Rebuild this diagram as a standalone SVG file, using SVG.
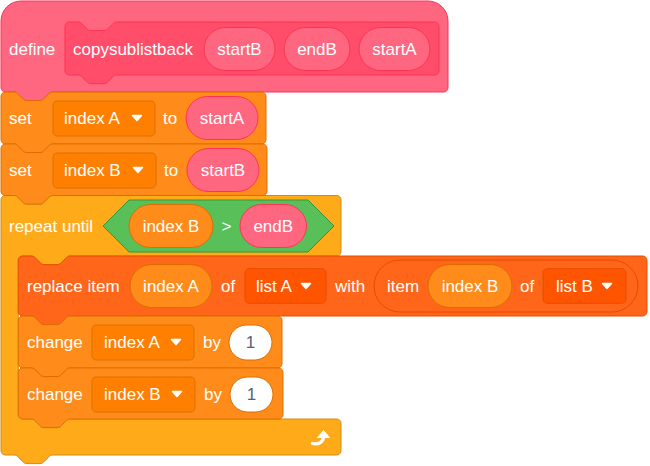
<svg xmlns="http://www.w3.org/2000/svg" width="650" height="466" viewBox="0 0 650 466">
<style>
.t{font-family:"Liberation Sans",Arial,Helvetica,sans-serif;font-size:17px;fill:#fff}
.m{text-anchor:middle}
.num{fill:#575E75}
.pro{fill:#FF6680;stroke:#FF3355;stroke-width:1}
.proin{fill:#FF4D6A;stroke:#FF3355;stroke-width:1}
.var{fill:#FF8C1A;stroke:#DB6E00;stroke-width:1}
.vardd{fill:#FF8000;stroke:#DB6E00;stroke-width:1}
.lst{fill:#FF661A;stroke:#E64D00;stroke-width:1}
.lstdd{fill:#FF5500;stroke:#E64D00;stroke-width:1}
.ctl{fill:#FFAB19;stroke:#CF8B17;stroke-width:1}
.op{fill:#59C059;stroke:#389438;stroke-width:1}
.numin{fill:#fff;stroke:#DB6E00;stroke-width:1}
.arr{fill:#fff;stroke:#fff;stroke-width:1.5;stroke-linejoin:round}
</style>
<defs>
<path id="dd" d="M-4.5,-2.5 L4.5,-2.5 L0,2.5 Z"/>
</defs>
<g id="repeat">
<path class="ctl" d="M1,199.82 A4.32,4.32 0 0 1 5.32,195.5 H13.96 c2.16,0 3.24,1.08 4.32,2.16 l4.32,4.32 c1.08,1.08 2.16,2.16 4.32,2.16 h12.96 c2.16,0 3.24,-1.08 4.32,-2.16 l4.32,-4.32 c1.08,-1.08 2.160,-2.16 4.32,-2.16 H336.68 A4.32,4.32 0 0 1 341,199.82 V251.68 A4.32,4.32 0 0 1 336.68,256 H70.12 c-2.16,0 -3.24,1.08 -4.32,2.16 l-4.32,4.32 c-1.08,1.08 -2.16,2.16 -4.32,2.16 h-12.96 c-2.16,0 -3.24,-1.08 -4.32,-2.16 l-4.32,-4.32 c-1.08,-1.08 -2.16,-2.16 -4.32,-2.16 H22.6 A4.32,4.32 0 0 0 18.28,260.32 V414.68 A4.32,4.32 0 0 0 22.6,419 H31.24 c2.16,0 3.24,1.08 4.32,2.16 l4.32,4.32 c1.08,1.08 2.16,2.16 4.32,2.16 h12.96 c2.16,0 3.24,-1.08 4.32,-2.16 l4.32,-4.32 c1.08,-1.08 2.16,-2.16 4.32,-2.16 H336.68 A4.32,4.32 0 0 1 341,423.32 V450.68 A4.32,4.32 0 0 1 336.68,455 H52.84 c-2.16,0 -3.24,1.08 -4.32,2.16 l-4.32,4.32 c-1.08,1.08 -2.16,2.16 -4.32,2.16 h-12.960 c-2.16,0 -3.24,-1.08 -4.32,-2.16 l-4.32,-4.32 c-1.08,-1.08 -2.16,-2.16 -4.32,-2.16 H5.32 A4.32,4.32 0 0 1 1,450.68 Z"/>
<text class="t" x="9" y="232">repeat until</text>
<polygon class="op" points="103,226 129,200 308,200 334,226 308,252 129,252"/>
<rect class="var" x="129" y="204.5" width="84" height="43" rx="21.5"/>
<text class="t m" x="171" y="232">index B</text>
<text class="t m" x="226.5" y="232">&gt;</text>
<rect class="pro" x="240" y="204.5" width="66.5" height="43" rx="21.5"/>
<text class="t m" x="273.25" y="232">endB</text>
<path d="M312.5,443.5 C318.5,445 323.5,442 323.5,436.5" fill="none" stroke="#fff" stroke-width="3.2" stroke-linecap="round"/>
<path d="M317.5,437.5 L323.5,430.5 L329.5,437.5 Z" fill="#fff" stroke="#fff" stroke-width="1" stroke-linejoin="round"/>
</g>
<g id="define">
<path class="pro" d="M1,21 A20,20 0 0 1 21,1 H428 A20,20 0 0 1 448,21 V87.68 A4.32,4.32 0 0 1 443.68,92 H52.84 c-2.16,0 -3.24,1.08 -4.32,2.16 l-4.32,4.32 c-1.08,1.08 -2.16,2.16 -4.32,2.16 h-12.96 c-2.16,0 -3.24,-1.08 -4.32,-2.16 l-4.32,-4.32 c-1.08,-1.08 -2.16,-2.16 -4.32,-2.16 H5.32 A4.32,4.32 0 0 1 1,87.68 Z"/>
<text class="t" x="9" y="55">define</text>
<path class="proin" d="M65,26.32 A4.32,4.32 0 0 1 69.32,22 H77.96 c2.16,0 3.24,1.08 4.32,2.16 l4.32,4.32 c1.08,1.08 2.16,2.16 4.32,2.16 h12.96 c2.16,0 3.24,-1.08 4.32,-2.16 l4.32,-4.32 c1.08,-1.08 2.16,-2.16 4.32,-2.16 H434.68 A4.32,4.32 0 0 1 439,26.32 V70.68 A4.32,4.32 0 0 1 434.68,75 H116.84 c-2.16,0 -3.24,1.08 -4.32,2.16 l-4.32,4.32 c-1.08,1.08 -2.16,2.16 -4.32,2.16 h-12.96 c-2.16,0 -3.24,-1.08 -4.32,-2.16 l-4.32,-4.32 c-1.08,-1.08 -2.16,-2.16 -4.32,-2.16 H69.32 A4.32,4.32 0 0 1 65,70.68 Z"/>
<text class="t" x="73" y="55">copysublistback</text>
<rect class="pro" x="204" y="27.5" width="71" height="43" rx="21.5"/>
<text class="t m" x="239.5" y="55">startB</text>
<rect class="pro" x="284" y="27.5" width="66" height="43" rx="21.5"/>
<text class="t m" x="317" y="55">endB</text>
<rect class="pro" x="359" y="27.5" width="71" height="43" rx="21.5"/>
<text class="t m" x="394.5" y="55">startA</text>
</g>
<g id="set1">
<path class="var" d="M1,96.32 A4.32,4.32 0 0 1 5.32,92 H13.96 c2.16,0 3.24,1.08 4.32,2.16 l4.32,4.32 c1.08,1.08 2.16,2.16 4.32,2.16 h12.96 c2.16,0 3.24,-1.08 4.32,-2.16 l4.32,-4.32 c1.08,-1.08 2.16,-2.16 4.32,-2.16 H261.68 A4.32,4.32 0 0 1 266,96.32 V139.68 A4.32,4.32 0 0 1 261.68,144 H52.84 c-2.16,0 -3.24,1.08 -4.32,2.16 l-4.32,4.32 c-1.08,1.08 -2.16,2.16 -4.32,2.16 h-12.96 c-2.16,0 -3.24,-1.08 -4.32,-2.16 l-4.32,-4.32 c-1.08,-1.08 -2.16,-2.16 -4.32,-2.16 H5.32 A4.32,4.32 0 0 1 1,139.68 Z"/>
<text class="t" x="9" y="124">set</text>
<rect class="vardd" x="53" y="101" width="102" height="35" rx="4.32"/>
<text class="t" x="64" y="124">index A</text>
<use href="#dd" class="arr" x="137" y="118"/>
<text class="t" x="163" y="124">to</text>
<rect class="pro" x="186" y="96.5" width="72" height="43" rx="21.5"/>
<text class="t m" x="222" y="124">startA</text>
</g>
<g id="set2">
<path class="var" d="M1,148.32 A4.32,4.32 0 0 1 5.32,144 H13.96 c2.16,0 3.24,1.08 4.32,2.16 l4.32,4.32 c1.08,1.08 2.16,2.16 4.32,2.16 h12.96 c2.16,0 3.24,-1.08 4.32,-2.16 l4.32,-4.32 c1.08,-1.08 2.16,-2.16 4.32,-2.16 H262.68 A4.32,4.32 0 0 1 267,148.32 V191.18 A4.32,4.32 0 0 1 262.68,195.5 H52.84 c-2.16,0 -3.24,1.08 -4.32,2.16 l-4.32,4.32 c-1.08,1.08 -2.16,2.16 -4.32,2.16 h-12.96 c-2.16,0 -3.24,-1.08 -4.32,-2.16 l-4.32,-4.32 c-1.08,-1.08 -2.16,-2.16 -4.32,-2.16 H5.32 A4.32,4.32 0 0 1 1,191.18 Z"/>
<text class="t" x="9" y="176">set</text>
<rect class="vardd" x="53" y="153" width="103" height="35" rx="4.32"/>
<text class="t" x="64" y="176">index B</text>
<use href="#dd" class="arr" x="138" y="170"/>
<text class="t" x="164" y="176">to</text>
<rect class="pro" x="187" y="148.5" width="72" height="43" rx="21.5"/>
<text class="t m" x="223" y="176">startB</text>
</g>
<g id="replace">
<path class="lst" d="M18.28,260.32 A4.32,4.32 0 0 1 22.6,256 H31.24 c2.16,0 3.24,1.08 4.32,2.16 l4.32,4.32 c1.08,1.08 2.16,2.16 4.32,2.16 h12.96 c2.16,0 3.24,-1.08 4.32,-2.16 l4.32,-4.32 c1.08,-1.08 2.16,-2.16 4.32,-2.16 H642.68 A4.32,4.32 0 0 1 647,260.32 V311.68 A4.32,4.32 0 0 1 642.68,316 H70.12 c-2.16,0 -3.24,1.08 -4.32,2.16 l-4.32,4.32 c-1.08,1.08 -2.16,2.16 -4.32,2.16 h-12.96 c-2.16,0 -3.24,-1.08 -4.32,-2.16 l-4.32,-4.32 c-1.08,-1.08 -2.16,-2.16 -4.32,-2.16 H22.6 A4.32,4.32 0 0 1 18.28,311.68 Z"/>
<text class="t" x="27" y="292">replace item</text>
<rect class="var" x="130" y="264.5" width="82" height="43" rx="21.5"/>
<text class="t m" x="171" y="292">index A</text>
<text class="t" x="221" y="292">of</text>
<rect class="lstdd" x="245" y="268.7" width="81" height="34.6" rx="4.32"/>
<text class="t" x="256" y="292">list A</text>
<use href="#dd" class="arr" x="306" y="286"/>
<text class="t" x="335" y="292">with</text>
<rect class="lst" x="374" y="260" width="264" height="52" rx="26"/>
<text class="t" x="387" y="292">item</text>
<rect class="var" x="428" y="264.5" width="84" height="43" rx="21.5"/>
<text class="t m" x="470" y="292">index B</text>
<text class="t" x="520" y="292">of</text>
<rect class="lstdd" x="543" y="268.7" width="83" height="34.6" rx="4.32"/>
<text class="t" x="556" y="292">list B</text>
<use href="#dd" class="arr" x="607" y="286"/>
</g>
<g id="change1">
<path class="var" d="M18.28,320.32 A4.32,4.32 0 0 1 22.6,316 H31.24 c2.16,0 3.24,1.08 4.32,2.16 l4.32,4.32 c1.08,1.08 2.16,2.16 4.32,2.16 h12.96 c2.16,0 3.24,-1.08 4.32,-2.16 l4.32,-4.32 c1.08,-1.08 2.16,-2.16 4.32,-2.16 H277.68 A4.32,4.32 0 0 1 282,320.32 V363.68 A4.32,4.32 0 0 1 277.68,368 H70.12 c-2.16,0 -3.24,1.08 -4.32,2.16 l-4.32,4.32 c-1.08,1.08 -2.16,2.16 -4.32,2.16 h-12.96 c-2.16,0 -3.24,-1.08 -4.32,-2.16 l-4.32,-4.32 c-1.08,-1.08 -2.16,-2.16 -4.32,-2.16 H22.6 A4.32,4.32 0 0 1 18.28,363.68 Z"/>
<text class="t" x="27" y="348">change</text>
<rect class="vardd" x="92" y="325" width="102" height="35" rx="4.32"/>
<text class="t" x="104" y="348">index A</text>
<use href="#dd" class="arr" x="176" y="342"/>
<text class="t" x="203" y="348">by</text>
<rect class="numin" x="229" y="325" width="43" height="35" rx="17.5"/>
<text class="t m num" x="250.5" y="348">1</text>
</g>
<g id="change2">
<path class="var" d="M18.28,372.32 A4.32,4.32 0 0 1 22.6,368 H31.24 c2.16,0 3.24,1.08 4.32,2.16 l4.32,4.32 c1.08,1.08 2.16,2.16 4.32,2.16 h12.96 c2.16,0 3.24,-1.08 4.32,-2.16 l4.32,-4.32 c1.08,-1.08 2.16,-2.16 4.32,-2.16 H278.68 A4.32,4.32 0 0 1 283,372.32 V414.68 A4.32,4.32 0 0 1 278.68,419 H70.12 c-2.16,0 -3.24,1.08 -4.32,2.16 l-4.32,4.32 c-1.08,1.08 -2.16,2.16 -4.32,2.16 h-12.96 c-2.16,0 -3.24,-1.08 -4.32,-2.16 l-4.32,-4.32 c-1.08,-1.08 -2.16,-2.16 -4.32,-2.16 H22.6 A4.32,4.32 0 0 1 18.28,414.68 Z"/>
<text class="t" x="27" y="400">change</text>
<rect class="vardd" x="92" y="377" width="103" height="35" rx="4.32"/>
<text class="t" x="104" y="400">index B</text>
<use href="#dd" class="arr" x="177" y="394"/>
<text class="t" x="204" y="400">by</text>
<rect class="numin" x="230" y="377" width="43" height="35" rx="17.5"/>
<text class="t m num" x="251.5" y="400">1</text>
</g>
<g id="connectors"/>
</svg>
